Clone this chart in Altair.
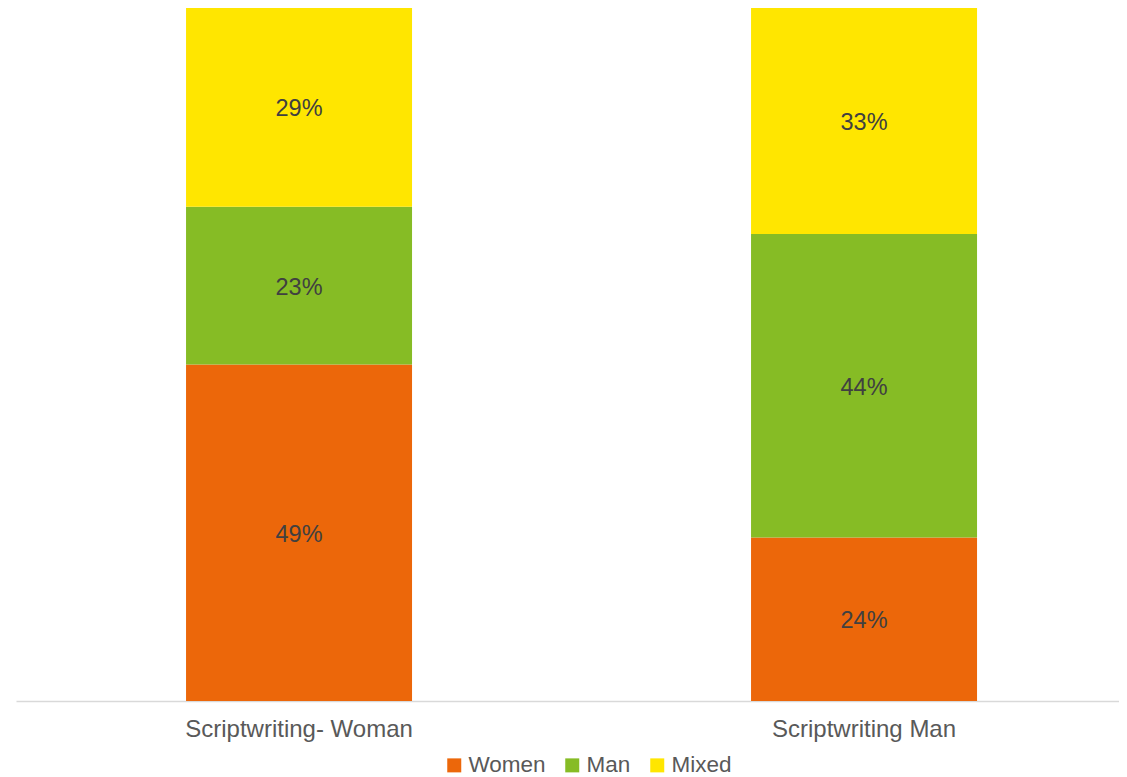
import altair as alt
import pandas as pd

groups = ["Scriptwriting- Woman", "Scriptwriting Man"]
series = ["Women", "Man", "Mixed"]
colors = ["#EC670A", "#86BC25", "#FFE600"]
values = {
    "Scriptwriting- Woman": [48.6, 22.8, 28.7],
    "Scriptwriting Man": [23.6, 43.8, 32.6],
}

rows = []
for g in groups:
    for i, s in enumerate(series):
        rows.append({"group": g, "series": s, "idx": i, "value": values[g][i]})
df = pd.DataFrame(rows)

FONT = "Liberation Sans"

base = alt.Chart(df).transform_stack(
    stack="value",
    groupby=["group"],
    as_=["y0", "y1"],
    sort=[alt.SortField("idx", order="ascending")],
    offset="normalize",
).transform_calculate(
    mid="(datum.y0 + datum.y1) / 2",
    label="format(round(datum.value), 'd') + '%'",
)

xenc = alt.X(
    "group:N",
    sort=groups,
    title=None,
    scale=alt.Scale(paddingInner=0.6, paddingOuter=0.2761, align=0.545),
    axis=alt.Axis(
        labelAngle=0,
        labelFontSize=24,
        labelColor="#595959",
        labelFont=FONT,
        labelPadding=16,
        labelLimit=0,
        ticks=False,
        domainColor="#D9D9D9",
        domainWidth=1.5,
        grid=False,
    ),
)

bars = base.mark_bar().encode(
    x=xenc,
    y=alt.Y("y0:Q", scale=alt.Scale(domain=[0, 1], nice=False), axis=None),
    y2="y1:Q",
    color=alt.Color(
        "series:N",
        scale=alt.Scale(domain=series, range=colors),
        sort=series,
        legend=alt.Legend(
            title=None,
            orient="none",
            direction="horizontal",
            legendX=427,
            legendY=746,
            symbolType="square",
            symbolSize=196,
            symbolStrokeWidth=0,
            labelFontSize=22.5,
            labelFont=FONT,
            labelColor="#595959",
            labelOffset=3,
            columnPadding=15,
            padding=0,
        ),
    ),
    order=alt.Order("idx:Q"),
)

texts = base.mark_text(
    fontSize=23.5, font=FONT, color="#404040", baseline="middle", align="center", dy=2
).encode(
    x=alt.X("group:N", sort=groups),
    y=alt.Y("mid:Q"),
    text="label:N",
)

chart = (
    alt.layer(bars, texts)
    .properties(
        width=1103,
        height=693,
        padding={"left": 8, "top": 0, "right": 0, "bottom": 0},
    )
    .configure_view(stroke=None)
)

chart.save("out.html", embed_options={"renderer": "svg", "actions": False})
